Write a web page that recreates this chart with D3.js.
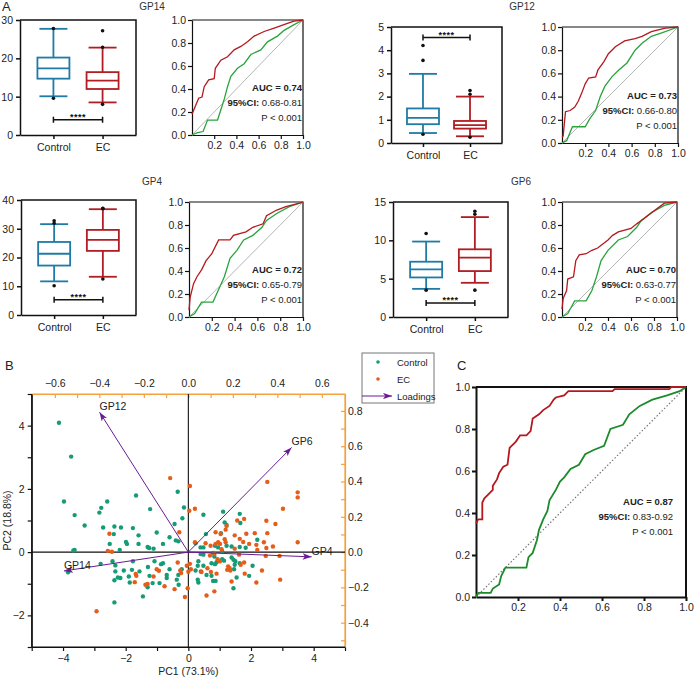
<!DOCTYPE html>
<html><head><meta charset="utf-8">
<script src="https://cdn.jsdelivr.net/npm/d3@7"></script>
<style>body{margin:0;background:#fff}svg{display:block}</style>
</head><body>
<svg id="c" width="694" height="677"></svg>
<script>
// ---------------- DATA ----------------
const groups = ["Control", "EC"];
const markers = ["GP14", "GP12", "GP4", "GP6"];
// box stats: [whisker low, Q1, median, Q3, whisker high]
const gp14Box = { Control: [10.1, 14.7, 17.4, 20.2, 27.7], EC: [8.5, 12.0, 14.2, 16.4, 22.8] };
const gp14Out = { Control: [27.8, 9.6], EC: [27.2, 22.9, 8.0] };
const gp12Box = { Control: [0.43, 0.81, 1.08, 1.49, 2.98], EC: [0.29, 0.62, 0.77, 0.95, 2.0] };
const gp12Out = { Control: [4.2, 3.56, 0.38], EC: [2.26, 2.1, 0.25] };
const gp4Box = { Control: [11.7, 17.2, 21.3, 25.4, 31.6], EC: [13.3, 22.3, 26.1, 29.6, 36.8] };
const gp4Out = { Control: [32.8, 31.9, 10.2], EC: [37.1, 37.0, 12.5] };
const gp6Box = { Control: [3.67, 5.16, 6.21, 7.21, 9.84], EC: [4.46, 5.99, 7.74, 8.83, 13.03] };
const gp6Out = { Control: [10.9, 3.5], EC: [13.8, 13.4, 3.5] };
const sigLevels = [4.0, 4.55, 5.3, 1.84];
const boxMax = [30, 5, 40, 15];
const gp14Ticks = [0, 10, 20, 30];
const gp12Ticks = [0, 1, 2, 3, 4, 5];
const gp4Ticks = [0, 10, 20, 30, 40];
const gp6Ticks = [0, 5, 10, 15];

// ROC curves [FPR, TPR]
const gp14Red = [[0,0.18],[0.03,0.25],[0.06,0.32],[0.09,0.33],[0.11,0.42],[0.15,0.48],[0.2,0.49],[0.21,0.58],[0.26,0.65],[0.32,0.68],[0.38,0.74],[0.44,0.77],[0.5,0.81],[0.56,0.86],[0.65,0.9],[0.74,0.93],[0.86,0.97],[0.92,0.99],[1,1]];
const gp14Green = [[0,0],[0.05,0.02],[0.1,0.03],[0.14,0.13],[0.23,0.13],[0.26,0.22],[0.29,0.31],[0.32,0.42],[0.35,0.51],[0.41,0.58],[0.47,0.62],[0.53,0.7],[0.62,0.74],[0.68,0.81],[0.77,0.86],[0.83,0.91],[0.92,0.96],[1,1]];
const gp12Red = [[0,0.05],[0.01,0.06],[0.03,0.27],[0.07,0.28],[0.11,0.31],[0.14,0.36],[0.17,0.43],[0.2,0.51],[0.23,0.56],[0.29,0.57],[0.31,0.63],[0.36,0.70],[0.4,0.77],[0.46,0.83],[0.54,0.88],[0.63,0.9],[0.69,0.92],[0.77,0.96],[0.89,0.99],[1,1]];
const gp12Green = [[0,0],[0.04,0.02],[0.09,0.14],[0.2,0.14],[0.24,0.21],[0.29,0.28],[0.33,0.40],[0.37,0.49],[0.43,0.57],[0.49,0.63],[0.56,0.69],[0.63,0.80],[0.69,0.86],[0.77,0.92],[0.86,0.95],[1,1]];
const gp4Red = [[0,0.06],[0.01,0.17],[0.04,0.29],[0.07,0.35],[0.11,0.41],[0.15,0.49],[0.2,0.55],[0.26,0.67],[0.36,0.67],[0.39,0.71],[0.5,0.74],[0.56,0.78],[0.65,0.81],[0.68,0.88],[0.77,0.93],[0.85,0.96],[0.97,0.99],[1,1]];
const gp4Green = [[0,0],[0.05,0.03],[0.11,0.13],[0.21,0.13],[0.27,0.26],[0.31,0.35],[0.36,0.51],[0.42,0.58],[0.48,0.67],[0.56,0.71],[0.64,0.78],[0.68,0.84],[0.77,0.9],[0.88,0.96],[1,1]];
const gp6Red = [[0,0.07],[0.01,0.16],[0.04,0.23],[0.05,0.33],[0.1,0.35],[0.12,0.49],[0.15,0.54],[0.21,0.55],[0.26,0.58],[0.31,0.60],[0.4,0.67],[0.44,0.71],[0.49,0.74],[0.6,0.77],[0.65,0.81],[0.72,0.86],[0.81,0.93],[0.89,0.99],[1,1]];
const gp6Green = [[0,0],[0.05,0.03],[0.11,0.14],[0.21,0.14],[0.26,0.23],[0.3,0.35],[0.34,0.49],[0.4,0.58],[0.49,0.67],[0.57,0.70],[0.65,0.78],[0.69,0.84],[0.78,0.91],[0.89,0.97],[1,1]];
const comboRed = [[0,0.35],[0.01,0.37],[0.03,0.37],[0.03,0.45],[0.04,0.47],[0.06,0.49],[0.08,0.51],[0.08,0.53],[0.1,0.56],[0.11,0.59],[0.13,0.62],[0.15,0.63],[0.16,0.71],[0.19,0.74],[0.21,0.77],[0.24,0.77],[0.26,0.79],[0.27,0.85],[0.3,0.87],[0.32,0.89],[0.35,0.91],[0.37,0.94],[0.38,0.95],[0.42,0.96],[0.44,0.98],[0.65,0.98],[0.66,0.99],[0.92,0.99],[0.93,1],[1,1]];
const comboGreen = [[0,0],[0.01,0.02],[0.07,0.02],[0.08,0.04],[0.11,0.06],[0.12,0.1],[0.14,0.14],[0.24,0.14],[0.25,0.19],[0.27,0.21],[0.29,0.27],[0.3,0.32],[0.32,0.37],[0.34,0.41],[0.35,0.46],[0.38,0.51],[0.4,0.55],[0.42,0.57],[0.45,0.61],[0.49,0.63],[0.52,0.68],[0.56,0.70],[0.61,0.72],[0.64,0.80],[0.7,0.82],[0.73,0.87],[0.78,0.91],[0.84,0.94],[0.91,0.96],[0.97,0.98],[1,1]];
const aucLabels = ["0.74", "0.73", "0.72", "0.70", "0.87"];
const ciLabels = ["0.68-0.81", "0.66-0.80", "0.65-0.79", "0.63-0.77", "0.83-0.92"];
const rocTicksY = [0, 0.2, 0.4, 0.6, 0.8, 1.0];
const rocTicksX = [0.2, 0.4, 0.6, 0.8, 1.0];

// PCA scores [PC1, PC2]
const controlScores = [[-4.13,4.09],[-3.74,3.02],[-3.97,1.60],[-3.63,1.17],[-3.31,0.84],[-3.67,0.05],[-3.63,0.07],[-3.84,-0.64],[-2.78,1.40],[-2.84,1.25],[-2.59,1.60],[-2.72,0.78],[-2.38,0.57],[-2.36,0.81],[-2.15,0.78],[-2.51,0.26],[-1.99,0.32],[-1.96,0.26],[-2.19,0.07],[-1.67,1.79],[-1.59,0.53],[-1.59,0.26],[-1.77,0.76],[-1.22,1.36],[-1.01,0.62],[-1.30,0.16],[-1.25,0.13],[-1.11,0.11],[-0.81,0.26],[-0.60,0.47],[-0.44,0.89],[-0.40,0.37],[-0.32,0.34],[-0.34,1.91],[-0.19,1.07],[-0.14,1.41],[-2.80,-0.37],[-2.42,-0.29],[-2.33,-0.42],[-2.33,-0.61],[-2.36,-0.89],[-2.25,-0.80],[-2.17,-0.82],[-2.36,-1.59],[-2.06,-0.58],[-1.87,-0.96],[-1.90,-0.77],[-1.80,-0.56],[-1.77,-0.29],[-1.56,-0.61],[-1.45,-1.40],[-1.29,-0.47],[-1.30,-1.11],[-1.14,-0.98],[-1.24,-0.75],[-1.08,-0.29],[-0.87,-0.38],[-0.81,-0.35],[-0.92,-0.98],[-0.69,-0.82],[-0.69,-0.72],[-0.60,-0.54],[-0.37,-0.87],[-0.32,-0.72],[-0.21,-0.54],[-0.31,-1.03],[0.23,0.28],[0.48,1.18],[0.56,0.57],[0.39,0.15],[0.48,0.15],[1.11,1.28],[1.16,0.94],[1.22,0.86],[1.04,0.60],[0.85,0.20],[0.95,0.15],[1.22,0.20],[1.38,0.18],[1.64,1.21],[1.66,0.92],[1.64,0.16],[1.83,0.14],[2.20,0.39],[0.39,-0.06],[0.48,-0.08],[0.79,-0.03],[0.83,-0.14],[1.08,0.02],[1.08,-0.22],[1.14,-0.27],[0.90,-0.32],[0.95,-0.26],[0.85,-0.38],[0.74,-0.35],[0.32,-0.29],[0.30,-0.43],[0.23,-0.58],[0.48,-0.43],[0.40,-0.61],[0.58,-0.72],[0.74,-0.75],[0.79,-0.91],[0.87,-0.91],[0.30,-0.87],[0.32,-0.96],[1.38,-0.17],[1.44,-0.24],[1.50,-0.29],[1.64,-0.35],[1.48,-0.40],[1.46,-0.54],[2.05,-0.43],[1.94,-0.75],[1.54,-0.80],[1.44,-1.14]];
const ecScores = [[-0.58,2.34],[0.05,2.09],[0.21,1.37],[0.03,1.31],[-0.29,0.63],[-2.52,0.58],[-2.57,0.04],[-2.44,0.01],[2.52,2.22],[3.49,1.89],[3.49,1.73],[3.02,1.37],[2.49,0.99],[2.78,0.89],[2.52,0.60],[3.49,0.31],[2.70,0.18],[2.49,0.13],[2.47,-0.12],[2.91,-0.12],[2.93,-0.87],[2.35,-0.58],[2.17,-0.96],[2.12,0.60],[2.17,0.23],[2.20,0.07],[1.85,0.58],[1.75,0.32],[1.56,1.00],[1.78,1.05],[1.48,0.53],[1.64,0.42],[2.41,0.31],[1.94,0.26],[1.22,0.83],[1.19,0.71],[0.87,0.63],[1.03,0.57],[1.16,0.41],[1.19,0.31],[0.71,0.20],[0.87,0.26],[0.95,0.31],[1.01,0.26],[1.06,0.09],[0.21,0.31],[0.55,0.28],[1.48,0.11],[0.05,-0.37],[0.08,-0.54],[0.00,-0.62],[-0.05,-0.43],[0.42,-0.63],[0.61,-0.51],[0.72,-0.63],[0.90,-0.68],[0.69,-0.11],[0.83,-0.06],[0.93,-0.22],[1.01,-0.29],[1.62,-0.08],[1.78,-0.33],[1.67,-0.40],[1.27,-0.45],[1.32,-0.51],[1.24,-0.56],[1.34,-0.58],[1.80,-0.68],[1.38,-0.93],[0.83,-1.24],[0.58,-1.37],[-0.02,-1.14],[-0.11,-1.42],[-0.34,-0.33],[-0.23,-0.66],[-0.44,-1.17],[-0.76,-1.08],[-1.01,-0.54],[-0.94,-0.59],[-1.11,-0.77],[-1.37,-1.03],[-1.30,-1.01],[-1.68,-0.69],[-1.66,-0.75],[-1.71,-0.95],[-2.93,-1.87],[-0.26,-0.58]];
// loadings [PC1 loading, PC2 loading]
const loadingNames = ["GP12", "GP6", "GP4", "GP14"];
const loadingValues = [[-0.399, 0.793], [0.464, 0.593], [0.554, -0.027], [-0.559, -0.107]];
const pcaTicksX = [-5, -4, -3, -2, -1, 0, 1, 2, 3, 4, 5];
const pcaTicksY = [-3, -2, -1, 0, 1, 2, 3, 4, 5];
const loadTicksX = [-0.6, -0.5, -0.4, -0.3, -0.2, -0.1, 0, 0.1, 0.2, 0.3, 0.4, 0.5, 0.6];
const loadTicksY = [-0.5, -0.4, -0.3, -0.2, -0.1, 0, 0.1, 0.2, 0.3, 0.4, 0.5, 0.6, 0.7, 0.8];
const legendItems = ["Control", "EC", "Loadings"];

// ---------------- DRAWING ----------------
const FONT = '"Liberation Sans", Arial, Helvetica, sans-serif';
const svg = d3.select("#c").attr("font-family", FONT);
const groupColor = { Control: "#1f7ba6", EC: "#b11d22" };
const rocRed = "#b3191f", rocGreen = "#2aa33c", rocGreenC = "#1d8a2b";
const ptGreen = "#169b77", ptOrange = "#e65d1a", purple = "#6a1b93", axOrange = "#f4a13e";

function styleAxis(g, color, width, fs) {
  g.select(".domain").attr("stroke", color).attr("stroke-width", width);
  g.selectAll(".tick line").attr("stroke", color).attr("stroke-width", width);
  g.selectAll(".tick text").attr("fill", "#222").attr("font-size", fs).attr("font-family", FONT);
}

function boxPanel(p) {
  const x = d3.scalePoint().domain(groups).range([p.x0, p.x1]).padding(0.68);
  const y = d3.scaleLinear().domain([0, p.max]).range([p.y1, p.y0]);
  const g = svg.append("g");
  g.append("path").attr("d", `M${p.x0},${p.y0}H${p.x1}V${p.y1}`).attr("fill", "none")
    .attr("stroke", "#111").attr("stroke-width", 1.5);
  const ay = g.append("g").attr("transform", `translate(${p.x0},0)`)
    .call(d3.axisLeft(y).tickValues(p.ticks).tickFormat(d3.format("d")).tickSize(4).tickSizeOuter(0).tickPadding(3));
  styleAxis(ay, "#111", 1.5, 10.5);
  const ax = g.append("g").attr("transform", `translate(0,${p.y1})`)
    .call(d3.axisBottom(x).tickSize(4).tickSizeOuter(0).tickPadding(5));
  styleAxis(ax, "#111", 1.5, 10.5);
  groups.forEach(k => {
    const s = p.stats[k], cx = x(k), col = groupColor[k];
    const gg = g.append("g").attr("stroke", col).attr("stroke-width", 1.8).attr("fill", "none");
    gg.append("line").attr("x1", cx).attr("x2", cx).attr("y1", y(s[3])).attr("y2", y(s[4]));
    gg.append("line").attr("x1", cx).attr("x2", cx).attr("y1", y(s[0])).attr("y2", y(s[1]));
    gg.append("line").attr("x1", cx - 14).attr("x2", cx + 14).attr("y1", y(s[4])).attr("y2", y(s[4]));
    gg.append("line").attr("x1", cx - 14).attr("x2", cx + 14).attr("y1", y(s[0])).attr("y2", y(s[0]));
    gg.append("rect").attr("x", cx - 16).attr("width", 32).attr("y", y(s[3])).attr("height", y(s[1]) - y(s[3])).attr("fill", "#fff");
    gg.append("line").attr("x1", cx - 16).attr("x2", cx + 16).attr("y1", y(s[2])).attr("y2", y(s[2]));
    g.selectAll(null).data(p.out[k]).enter().append("circle")
      .attr("cx", cx).attr("cy", d => y(d)).attr("r", 1.8).attr("fill", "#111");
  });
  const sy = y(p.sig), xa = x("Control"), xb = x("EC");
  g.append("path").attr("d", `M${xa},${sy - 3}V${sy + 3}M${xa},${sy}H${xb}M${xb},${sy - 3}V${sy + 3}`)
    .attr("stroke", "#111").attr("stroke-width", 1.5).attr("fill", "none");
  g.append("text").attr("x", (xa + xb) / 2).attr("y", sy + 0.5).attr("text-anchor", "middle")
    .attr("font-size", 9).attr("font-weight", "bold").attr("letter-spacing", 0.5).attr("fill", "#111").text("****");
  g.append("text").attr("x", p.tx).attr("y", p.ty).attr("text-anchor", "middle").attr("font-size", 10)
    .attr("fill", "#333").text(p.title);
}

function rocPanel(p) {
  const x = d3.scaleLinear().domain([0, 1]).range([p.x0, p.x1]);
  const y = d3.scaleLinear().domain([0, 1]).range([p.y1, p.y0]);
  const g = svg.append("g");
  g.append("path").attr("d", `M${p.x0},${p.y0}H${p.x1}V${p.y1}`).attr("fill", "none")
    .attr("stroke", "#111").attr("stroke-width", p.sw);
  const ay = g.append("g").attr("transform", `translate(${p.x0},0)`)
    .call(d3.axisLeft(y).tickValues(rocTicksY).tickFormat(d3.format(".1f")).tickSize(p.tk).tickSizeOuter(0).tickPadding(2));
  styleAxis(ay, "#111", p.sw, p.fs);
  const ax = g.append("g").attr("transform", `translate(0,${p.y1})`)
    .call(d3.axisBottom(x).tickValues(rocTicksX).tickFormat(d3.format(".1f")).tickSize(p.tk).tickSizeOuter(0).tickPadding(3));
  styleAxis(ax, "#111", p.sw, p.fs);
  const diag = g.append("line").attr("x1", x(0)).attr("y1", y(0)).attr("x2", x(1)).attr("y2", y(1));
  if (p.dotted) diag.attr("stroke", "#777").attr("stroke-width", 1.2).attr("stroke-dasharray", "1.5,2");
  else diag.attr("stroke", "#b5b5b5").attr("stroke-width", 1);
  const line = d3.line().x(d => x(d[0])).y(d => y(d[1]));
  g.append("path").attr("d", line(p.green)).attr("fill", "none").attr("stroke", p.gcol).attr("stroke-width", p.lw);
  g.append("path").attr("d", line(p.red)).attr("fill", "none").attr("stroke", rocRed).attr("stroke-width", p.lw);
  const t = g.append("g").attr("text-anchor", "end").attr("font-size", p.tfs).attr("fill", "#222");
  const t1 = t.append("text").attr("x", p.tr).attr("y", p.y1 - p.ta);
  t1.append("tspan").attr("font-weight", "bold").text("AUC = " + p.auc);
  const t2 = t.append("text").attr("x", p.tr).attr("y", p.y1 - p.ta + p.tstep);
  t2.append("tspan").attr("font-weight", "bold").text("95%CI:");
  t2.append("tspan").text(" " + p.ci);
  t.append("text").attr("x", p.tr).attr("y", p.y1 - p.ta + 2 * p.tstep).text("P < 0.001");
}

const boxes = [
  { x0: 20, x1: 136, y0: 20, y1: 135, stats: gp14Box, out: gp14Out, tx: 152, ty: 10 },
  { x0: 391, x1: 502, y0: 27, y1: 143, stats: gp12Box, out: gp12Out, tx: 522, ty: 10 },
  { x0: 21, x1: 136, y0: 200, y1: 315, stats: gp4Box, out: gp4Out, tx: 152, ty: 185 },
  { x0: 393, x1: 508, y0: 202, y1: 317, stats: gp6Box, out: gp6Out, tx: 521, ty: 185 }
];
const boxTicks = [gp14Ticks, gp12Ticks, gp4Ticks, gp6Ticks];
boxes.forEach((b, i) => boxPanel(Object.assign(b, { max: boxMax[i], ticks: boxTicks[i], sig: sigLevels[i], title: markers[i] })));

const rocs = [
  { x0: 192, x1: 303, y0: 20, y1: 135, red: gp14Red, green: gp14Green },
  { x0: 562, x1: 678, y0: 27, y1: 143, red: gp12Red, green: gp12Green },
  { x0: 189, x1: 303, y0: 202, y1: 317, red: gp4Red, green: gp4Green },
  { x0: 562, x1: 677, y0: 202, y1: 317, red: gp6Red, green: gp6Green }
];
rocs.forEach((r, i) => rocPanel(Object.assign(r, {
  auc: aucLabels[i], ci: ciLabels[i], sw: 1.2, tk: 4, fs: 10.5, lw: 1.3, gcol: rocGreen,
  tr: r.x1 - 1, ta: 44, tstep: 15, tfs: 9.5, dotted: false
})));
rocPanel({ x0: 476, x1: 686, y0: 387, y1: 597, red: comboRed, green: comboGreen, auc: aucLabels[4], ci: ciLabels[4],
  sw: 2, tk: 4, fs: 10.5, lw: 1.8, gcol: rocGreenC, tr: 673, ta: 92, tstep: 15, tfs: 9.5, dotted: true });

// panel letters
[["A", 2, 11], ["B", 5, 370], ["C", 457, 370]].forEach(l =>
  svg.append("text").attr("x", l[1]).attr("y", l[2]).attr("font-size", 13).attr("fill", "#222").text(l[0]));

// ---------------- PCA biplot ----------------
const PX0 = 31.7, PX1 = 345, PY0 = 394, PY1 = 647;
const xs = d3.scaleLinear().domain([-5, 5]).range([PX0, PX1]);
const ys = d3.scaleLinear().domain([-3, 5]).range([PY1, PY0]);
const xl = d3.scaleLinear().domain([-0.704, 0.704]).range([PX0, PX1]);
const yl = d3.scaleLinear().domain([-0.538, 0.896]).range([PY1, PY0]);
const B = svg.append("g");
const minus = v => d3.format("")(v);
const axB = B.append("g").attr("transform", `translate(0,${PY1})`)
  .call(d3.axisBottom(xs).tickValues(pcaTicksX).tickFormat(d => d % 2 === 0 ? minus(d) : "").tickSize(4).tickSizeOuter(0).tickPadding(4));
styleAxis(axB, "#111", 1.2, 10.5);
const axL = B.append("g").attr("transform", `translate(${PX0},0)`)
  .call(d3.axisLeft(ys).tickValues(pcaTicksY).tickFormat(d => d % 2 === 0 ? minus(d) : "").tickSize(4).tickSizeOuter(0).tickPadding(3));
styleAxis(axL, "#111", 1.2, 10.5);
const f1 = d3.format(".1f");
const axT = B.append("g").attr("transform", `translate(0,${PY0})`)
  .call(d3.axisTop(xl).tickValues(loadTicksX).tickFormat(d => Math.round(d * 10) % 2 === 0 ? f1(d) : "").tickSize(-4).tickSizeOuter(0).tickPadding(7));
styleAxis(axT, axOrange, 1.2, 10.5);
const axR = B.append("g").attr("transform", `translate(${PX1},0)`)
  .call(d3.axisRight(yl).tickValues(loadTicksY).tickFormat(d => Math.round(d * 10) % 2 === 0 ? f1(d) : "").tickSize(-4).tickSizeOuter(0).tickPadding(3));
styleAxis(axR, axOrange, 1.2, 10.5);
// frame closures
B.append("path").attr("d", `M${PX0},${PY0}H${PX1}V${PY1}`).attr("fill", "none").attr("stroke", axOrange).attr("stroke-width", 1.2);
B.append("path").attr("d", `M${PX0},${PY0}V${PY1}H${PX1}`).attr("fill", "none").attr("stroke", "#111").attr("stroke-width", 1.2);
// zero lines
B.append("line").attr("x1", xs(0)).attr("x2", xs(0)).attr("y1", PY0).attr("y2", PY1).attr("stroke", "#111").attr("stroke-width", 1.1);
B.append("line").attr("x1", PX0).attr("x2", PX1).attr("y1", ys(0)).attr("y2", ys(0)).attr("stroke", "#111").attr("stroke-width", 1.1);
// points
B.selectAll(null).data(controlScores).enter().append("circle")
  .attr("cx", d => xs(d[0])).attr("cy", d => ys(d[1])).attr("r", 2.2).attr("fill", ptGreen);
B.selectAll(null).data(ecScores).enter().append("circle")
  .attr("cx", d => xs(d[0])).attr("cy", d => ys(d[1])).attr("r", 2.2).attr("fill", ptOrange);
// arrows
const defs = svg.append("defs");
defs.append("marker").attr("id", "arr").attr("viewBox", "0 0 10 7").attr("refX", 10).attr("refY", 3.5)
  .attr("markerWidth", 9).attr("markerHeight", 6.3).attr("markerUnits", "userSpaceOnUse").attr("orient", "auto")
  .append("path").attr("d", "M0,0L10,3.5L0,7L2.5,3.5Z").attr("fill", purple);
B.selectAll(null).data(loadingValues).enter().append("line")
  .attr("x1", xl(0)).attr("y1", yl(0)).attr("x2", d => xl(d[0])).attr("y2", d => yl(d[1]))
  .attr("stroke", purple).attr("stroke-width", 1).attr("marker-end", "url(#arr)");
B.selectAll(null).data(loadingValues).enter().append("text")
  .attr("x", d => xl(d[0])).attr("y", d => yl(d[1]) - 2).attr("font-size", 10.5).attr("fill", "#222")
  .text((d, i) => loadingNames[i]);
// axis titles
B.append("text").attr("x", xs(0)).attr("y", 675).attr("text-anchor", "middle").attr("font-size", 10.5).attr("fill", "#222").text("PC1 (73.1%)");
B.append("text").attr("transform", `translate(11,${ys(1)}) rotate(-90)`).attr("text-anchor", "middle").attr("font-size", 10.5).attr("fill", "#222").text("PC2 (18.8%)");
// legend
const L = svg.append("g");
L.append("rect").attr("x", 362).attr("y", 353).attr("width", 72).attr("height", 50).attr("fill", "#fff").attr("stroke", "#777").attr("stroke-width", 1);
L.append("circle").attr("cx", 378).attr("cy", 362).attr("r", 1.8).attr("fill", ptGreen);
L.append("circle").attr("cx", 378).attr("cy", 379).attr("r", 1.8).attr("fill", ptOrange);
L.append("line").attr("x1", 362).attr("x2", 392).attr("y1", 396).attr("y2", 396).attr("stroke", purple).attr("stroke-width", 1).attr("marker-end", "url(#arr)");
L.selectAll(null).data(legendItems).enter().append("text")
  .attr("x", 397).attr("y", (d, i) => 365.5 + i * 17).attr("font-size", 9.5).attr("fill", "#222").text(d => d);
</script>
</body></html>
